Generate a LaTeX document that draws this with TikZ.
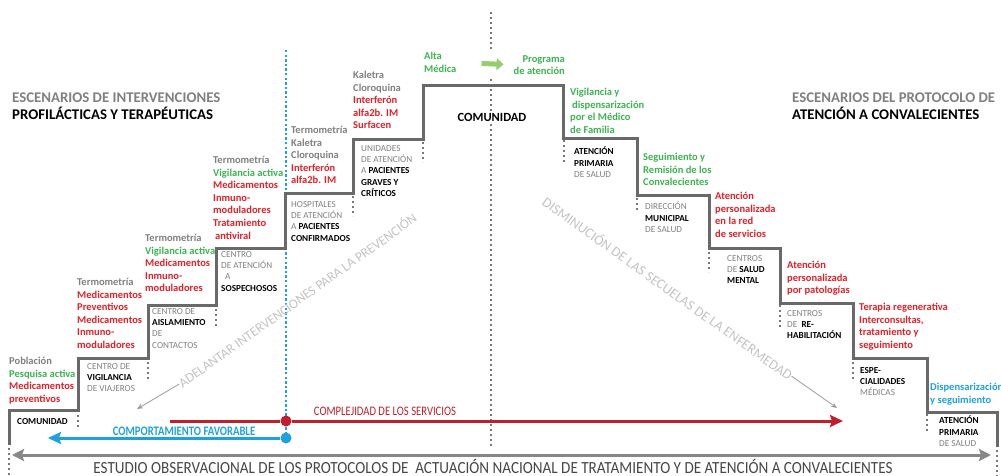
\documentclass[tikz,border=0pt]{standalone}
\usepackage{fontspec}
\setmainfont{Carlito}
\newfontfamily\narrowfont[FakeStretch=0.82]{Carlito}
\newfontfamily\titlefont[FakeStretch=0.89]{Carlito}
\usetikzlibrary{arrows.meta,positioning}
\definecolor{stairgray}{RGB}{105,105,105}
\definecolor{txtgray}{RGB}{128,128,128}
\definecolor{diaggray}{RGB}{195,195,195}
\definecolor{okgreen}{RGB}{60,178,80}
\definecolor{alertred}{RGB}{226,32,40}
\definecolor{lineblue}{RGB}{30,160,225}
\definecolor{darkred}{RGB}{192,32,45}
\definecolor{arrowgreen}{RGB}{150,205,110}
\definecolor{titlegray}{RGB}{70,70,70}
\newcommand{\txtgray}[1]{\textcolor{txtgray}{#1}}
\newcommand{\txtgreen}[1]{\textcolor{okgreen}{\textbf{#1}}}
\newcommand{\txtred}[1]{\textcolor{alertred}{\textbf{#1}}}
\newcommand{\txtblue}[1]{\textcolor{lineblue}{\textbf{#1}}}
\newcommand{\txtblack}[1]{\textcolor{black}{\textbf{#1}}}

\begin{document}
\begin{tikzpicture}[x=1pt, y=-1pt,
    stair/.style={draw=stairgray, line width=3pt, line join=miter},
    dotmark/.style={draw=stairgray!90, line width=2.4pt, dash pattern=on 2.4pt off 2.6pt},
    bluedots/.style={draw=lineblue, line width=2.4pt, dash pattern=on 2.4pt off 2.2pt},
    heading/.style={anchor=north west, inner sep=0pt, align=left,
                    font=\fontsize{14.8}{17}\selectfont\bfseries},
    stepnote/.style={anchor=north west, inner sep=0pt, align=left,
                     font=\fontsize{10.5}{12.6}\selectfont},
    place/.style={anchor=north west, inner sep=0pt, align=left, text=txtgray,
                  font=\fontsize{9.2}{11.3}\selectfont},
    diag/.style={inner sep=0pt, text=diaggray, font=\fontsize{13.5}{14}\selectfont},
    thinarrow/.style={draw=diaggray!80!black, line width=0.8pt, -{Stealth[length=6pt,width=5pt]}},
    axisarrow/.style={line width=3pt, {Stealth[length=12pt,width=12pt,inset=2pt]}-{Stealth[length=12pt,width=12pt,inset=2pt]}}
]
    \useasboundingbox (0,0) rectangle (1001,476);

    % Dotted guides
    \draw[dotmark] (491,12) -- (491,50);
    \draw[dotmark] (491,79) -- (491,446);
    \draw[bluedots] (286,50) -- (286,436);
    \foreach \x/\ya/\yb in {9/448/476, 78/415/430, 148/362/380, 216/309/327, 353/196/216, 423/142/162,
                            564/125/162, 637/198/211, 709/252/272, 780/290/328, 853/362/382, 927/414/432, 997/450/476}
        \draw[dotmark] (\x,\ya) -- (\x,\yb);

    % Staircase
    \draw[stair] (9,445) -- (9,410) -- (78,410) -- (78,358) -- (148,358) -- (148,305) -- (216,305)
        -- (216,248) -- (285,248) -- (285,193) -- (353,193) -- (353,140) -- (423,140) -- (423,86)
        -- (563,86) -- (563,139) -- (637,139) -- (637,195) -- (709,195) -- (709,248) -- (780,248)
        -- (780,303) -- (853,303) -- (853,358) -- (927,358) -- (927,412) -- (997,412) -- (997,447);

    % Headings
    \node[heading] (headL) at (12,93) {\txtgray{ESCENARIOS DE INTERVENCIONES}\\PROFILÁCTICAS Y TERAPÉUTICAS};
    \node[heading] (headR) at (792,93) {\txtgray{ESCENARIOS DEL PROTOCOLO DE}\\ATENCIÓN A CONVALECIENTES};

    % Left steps: interventions
    \node[stepnote] (note0) at (9,357) {\txtgray{\textbf{Población}}\\\txtgreen{Pesquisa activa}\\\txtred{Medicamentos}\\\txtred{preventivos}};
    \node[place] (place0) at (17,418) {\txtblack{COMUNIDAD}};

    \node[stepnote] (note1) at (77,278) {\txtgray{\textbf{Termometría}}\\\txtred{Medicamentos}\\\txtred{Preventivos}\\\txtred{Medicamentos}\\\txtred{Inmuno-}\\\txtred{moduladores}};
    \node[place] (place1) at (87,363) {CENTRO DE\\\txtblack{VIGILANCIA}\\DE VIAJEROS};

    \node[stepnote] (note2) at (145,234) {\txtgray{\textbf{Termometría}}\\\txtgreen{Vigilancia activa}\\\txtred{Medicamentos}\\\txtred{Inmuno-}\\\txtred{moduladores}};
    \node[place] (place2) at (152,308) {CENTRO DE\\\txtblack{AISLAMIENTO}\\DE\\CONTACTOS};

    \node[stepnote] (note3) at (213,156) {\txtgray{\textbf{Termometría}}\\\txtgreen{Vigilancia activa}\\\txtred{Medicamentos}\\\txtred{Inmuno-}\\\txtred{moduladores}\\\txtred{Tratamiento}\\\hspace{2pt}\txtred{antiviral}};
    \node[place] (place3) at (221,251) {CENTRO\\DE ATENCIÓN\\\hspace{4pt}A\\\txtblack{SOSPECHOSOS}};

    \node[stepnote] (note4) at (291,126) {\txtgray{\textbf{Termometría}}\\\txtgray{\textbf{Kaletra}}\\\txtgray{\textbf{Cloroquina}}\\\txtred{Interferón}\\\txtred{alfa2b. IM}};
    \node[place] (place4) at (291,201) {HOSPITALES\\DE ATENCIÓN\\A \txtblack{PACIENTES}\\\txtblack{CONFIRMADOS}};

    \node[stepnote] (note5) at (353,71) {\txtgray{\textbf{Kaletra}}\\\txtgray{\textbf{Cloroquina}}\\\txtred{Interferón}\\\txtred{alfa2b. IM}\\\txtred{Surfacen}};
    \node[place] (place5) at (361,145) {UNIDADES\\DE ATENCIÓN\\A \txtblack{PACIENTES}\\\txtblack{GRAVES Y}\\\txtblack{CRÍTICOS}};

    % Top: community
    \node[stepnote] (alta) at (424,52) {\txtgreen{Alta}\\\txtgreen{Médica}};
    \node[stepnote, anchor=north east, align=right] (prog) at (565,55) {\txtgreen{Programa}\\\txtgreen{de atención}};
    \draw[arrowgreen, line width=5pt, -{Triangle[length=7pt,width=12pt]}, shorten <=25pt, shorten >=10pt] (alta.east) -- (prog.west);
    \node[fill=white, inner sep=1pt, font=\fontsize{12.5}{14}\selectfont\bfseries] (comunidad) at (492,117) {COMUNIDAD};

    % Right steps: convalescents
    \node[stepnote] (note6) at (570,88) {\txtgreen{Vigilancia y}\\\hspace{2pt}\txtgreen{dispensarización}\\\txtgreen{por el Médico}\\\txtgreen{de Familia}};
    \node[place] (place6) at (574,147) {\txtblack{ATENCIÓN}\\\txtblack{PRIMARIA}\\DE SALUD};

    \node[stepnote] (note7) at (643,153) {\txtgreen{Seguimiento y}\\\txtgreen{Remisión de los}\\\txtgreen{Convalecientes}};
    \node[place] (place7) at (645,202) {DIRECCIÓN\\\txtblack{MUNICIPAL}\\DE SALUD};

    \node[stepnote] (note8) at (715,192) {\txtred{Atención}\\\txtred{personalizada}\\\txtred{en la red}\\\txtred{de servicios}};
    \node[place] (place8) at (727,255) {CENTROS\\DE \txtblack{SALUD}\\\txtblack{MENTAL}};

    \node[stepnote] (note9) at (787,261) {\txtred{Atención}\\\txtred{personalizada}\\\txtred{por patologías}};
    \node[place] (place9) at (787,310) {CENTROS\\DE \ \txtblack{RE-}\\\txtblack{HABILITACIÓN}};

    \node[stepnote] (note10) at (859,303) {\txtred{Terapia regenerativa}\\\txtred{Interconsultas,}\\\txtred{tratamiento y}\\\txtred{seguimiento}};
    \node[place] (place10) at (860,367) {\txtblack{ESPE-}\\\txtblack{CIALIDADES}\\MÉDICAS};

    \node[stepnote] (note11) at (930,383) {\txtblue{Dispensarización}\\\txtblue{y seguimiento}};
    \node[place] (place11) at (939,416) {\txtblack{ATENCIÓN}\\\txtblack{PRIMARIA}\\DE SALUD};

    % Diagonal trends
    \node[diag, rotate=35.5] (adelantar) at (297,300) {ADELANTAR INTERVENCIONES PARA LA PREVENCIÓN};
    \coordinate (adelTip) at (137,409);
    \draw[thinarrow] (adelantar.west) -- (adelTip);
    \node[diag, rotate=-35.5, font=\fontsize{14}{15}\selectfont] (secuelas) at (668,288) {DISMINUCIÓN DE LAS SECUELAS DE LA ENFERMEDAD};
    \coordinate (secTip) at (837,408);
    \draw[thinarrow] (secuelas.east) -- (secTip);

    % Bottom arrows
    \coordinate (cplxL) at (170,421);
    \coordinate (cplxR) at (843,421);
    \coordinate (favL) at (48,438);
    \node[circle, fill=darkred, inner sep=0pt, minimum size=11pt] (reddot) at (286,421) {};
    \node[circle, fill=lineblue, inner sep=0pt, minimum size=11pt] (bluedot) at (286,438) {};
    \draw[darkred, line width=3pt, -{Stealth[length=13pt,width=12pt,inset=2pt]}] (cplxL) -- (reddot) -- (cplxR);
    \draw[lineblue, line width=3pt, -{Stealth[length=13pt,width=12pt,inset=2pt]}] (bluedot) -- (favL);
    \node[text=darkred, font=\narrowfont\fontsize{13}{14}\selectfont] (cplxlbl) at (385,411) {COMPLEJIDAD DE LOS SERVICIOS};
    \node[text=lineblue, font=\narrowfont\fontsize{13}{14}\selectfont\bfseries] (favlbl) at (184,431) {COMPORTAMIENTO FAVORABLE};

    \coordinate (studyL) at (12,455);
    \coordinate (studyR) at (991,455);
    \draw[axisarrow, draw=stairgray!80, fill=stairgray!80] (studyL) -- (studyR);
    \node[text=titlegray, inner sep=0pt, font=\titlefont\fontsize{17}{19}\selectfont] (study) at (493,466.5) {ESTUDIO OBSERVACIONAL DE LOS PROTOCOLOS DE \ ACTUACIÓN NACIONAL DE TRATAMIENTO Y DE ATENCIÓN A CONVALECIENTES};
\end{tikzpicture}
\end{document}
